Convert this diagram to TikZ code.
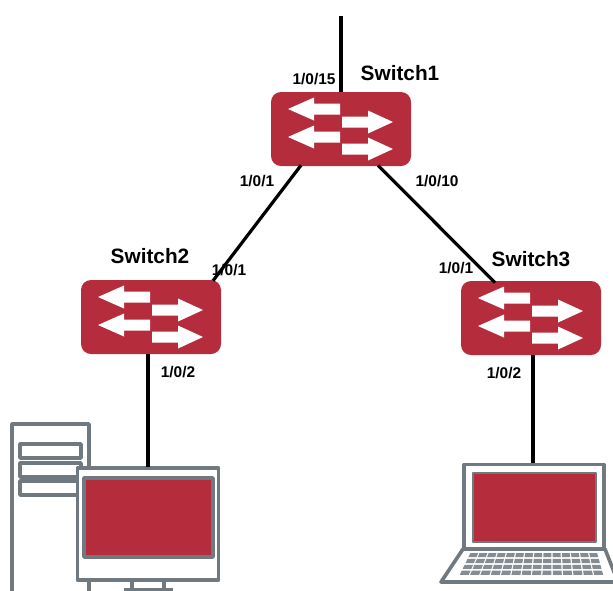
\documentclass[tikz,border=0pt]{standalone}
\usepackage{fontspec}
\setmainfont{Liberation Sans}
\usetikzlibrary{calc}
\definecolor{swred}{HTML}{B52C3C}
\definecolor{devgrey}{HTML}{70797F}
\tikzset{
  x=0.75pt,y=-0.75pt,
  switchbox/.style={fill=swred,draw=none,rounded corners=7.5pt,minimum width=105pt,minimum height=55.5pt,inner sep=0pt},
  swname/.style={font=\bfseries\fontsize{15.6}{18}\selectfont,inner sep=0pt},
  portlabel/.style={font=\bfseries\fontsize{11.6}{14}\selectfont,inner sep=0pt},
  link/.style={draw=black,line width=2.4pt},
  devline/.style={draw=devgrey,line width=2.7pt,line join=round},
  pics/swicon/.style={code={
    \fill[white] (-53,-20) -- (-27,-31.5) -- (-27,-25.5) -- (-1,-25.5) -- (-1,-14.5) -- (-27,-14.5) -- (-27,-8.5) -- cycle;
    \fill[white] (-53,8) -- (-27,-3.5) -- (-27,2.5) -- (-1,2.5) -- (-1,13.5) -- (-27,13.5) -- (-27,19.5) -- cycle;
    \fill[white] (52,-7) -- (27,-18.5) -- (27,-12.5) -- (1,-12.5) -- (1,-1.5) -- (27,-1.5) -- (27,4.5) -- cycle;
    \fill[white] (52,20) -- (27,8.5) -- (27,14.5) -- (1,14.5) -- (1,25.5) -- (27,25.5) -- (27,31.5) -- cycle;
  }}
}
\begin{document}
\begin{tikzpicture}
\useasboundingbox (0,0) rectangle (613,590);
\clip (0,0) rectangle (613,590);
% switches
\node[switchbox] (s1) at (341,129) {};
\node[switchbox] (s2) at (151,317) {};
\node[switchbox] (s3) at (531,318) {};
\pic at (s1) {swicon};
\pic at (s2) {swicon};
\pic at (s3) {swicon};
% PC
\draw[devline,fill=white] (12,424) rectangle (89,600);
\draw[devline,fill=white] (20,444) rectangle (81,458);
\draw[devline,fill=white] (20,463) rectangle (81,477);
\draw[devline,fill=white] (20,481) rectangle (81,495);
\draw[devline,fill=white] (132,578) rectangle (164,590);
\draw[devline] (124,589.5) -- (173,589.5);
\node[devline,fill=white,minimum width=106pt,minimum height=84pt,inner sep=0pt] (pc) at (148,524) {};
\draw[devline,fill=swred] (84,478) rectangle (213,557);
% Laptop
\coordinate (lap) at (533,464);
\draw[devline,fill=white] (463,549) -- (605,549) -- (618,582) -- (441,582) -- cycle;
\foreach \r in {0,...,3}{
  \foreach \c in {0,...,13}{
    \pgfmathsetmacro{\tA}{\r/4}
    \pgfmathsetmacro{\tB}{(\r+0.72)/4}
    \pgfmathsetmacro{\ya}{553+23.5*\tA}
    \pgfmathsetmacro{\yb}{553+23.5*\tB}
    \pgfmathsetmacro{\xla}{470-11.5*\tA}
    \pgfmathsetmacro{\xlb}{470-11.5*\tB}
    \pgfmathsetmacro{\wa}{(128+18*\tA)/14}
    \pgfmathsetmacro{\wb}{(128+18*\tB)/14}
    \fill[devgrey!85] (\xla+\c*\wa+.4,\ya) -- (\xla+\c*\wa+\wa-.9,\ya) -- (\xlb+\c*\wb+\wb-.9,\yb) -- (\xlb+\c*\wb+.4,\yb) -- cycle;
  }
}
\node[devline,fill=white,minimum width=105pt,minimum height=63pt,inner sep=0pt] (lt) at (534,506.5) {};
\draw[devline,line width=1.8pt,fill=swred] (473,473) rectangle (596,542);
% connectors
\coordinate (up) at (341,16);
\draw[link] (up) -- (up |- s1.north);
\draw[link] ($(s1.south)+(-40,-1)$) -- ($(s2.north)+(62,1)$);
\draw[link] ($(s1.south)+(37,-1)$) -- ($(s3.north)+(-36,2)$);
\draw[link] ($(s2.south)+(-3,0)$) -- ($(pc.north)+(0,1)$);
\draw[link] ($(s3.south)+(2,0)$) -- (lt.north -| 533,0);
% labels
\node[swname] (n1) at (400,73) {Switch1};
\node[swname] (n2) at (150,256) {Switch2};
\node[swname] (n3) at (531,259) {Switch3};
\node[portlabel] (p1) at (314,79) {1/0/15};
\node[portlabel] (p2) at (257,181) {1/0/1};
\node[portlabel] (p3) at (437,181) {1/0/10};
\node[portlabel] (p4) at (229,270) {1/0/1};
\node[portlabel] (p5) at (456,268) {1/0/1};
\node[portlabel] (p6) at (178,372) {1/0/2};
\node[portlabel] (p7) at (504,373) {1/0/2};
\end{tikzpicture}
\end{document}
